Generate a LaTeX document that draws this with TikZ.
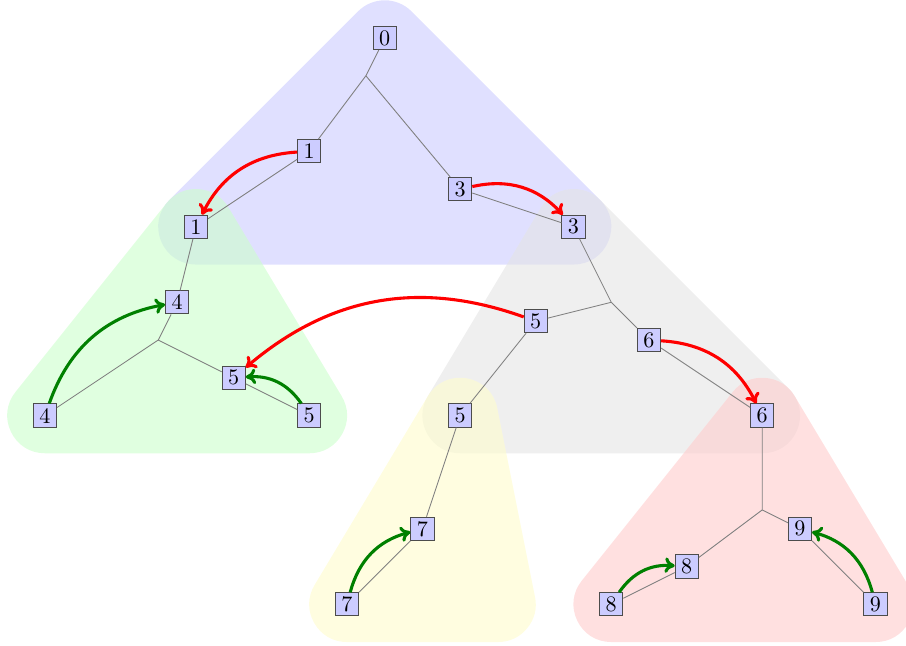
\documentclass[tikz,border=0pt]{standalone}
\usepackage{tikz}
\usetikzlibrary{backgrounds, arrows.meta}
\tikzstyle{cell} = [rectangle, minimum size=10.5pt, inner sep=1pt, text centered, draw=black!70, fill=blue!20]
\tikzstyle{link} = [gray]
\tikzstyle{zone} = [line width=1.2cm, line join=round]
\tikzstyle{redarrow} = [line width=1.4pt, red, -{To[length=4.5pt, width=7pt]}]
\tikzstyle{greenarrow} = [line width=1.4pt, green!50!black, -{To[length=4.5pt, width=7pt]}]

\begin{document}
\begin{tikzpicture}[x=0.6cm, y=-0.6cm]
  \useasboundingbox (-1.192,-1.007) rectangle (22.808,16.08);
  % first tree
  \node (zero) [cell] at (9,0) {0};
  \coordinate (j0) at (8.5,1);
  \node (oneA) [cell] at (7,3) {1};
  \node (threeA) [cell] at (11,4) {3};
  \node (oneB) [cell] at (4,5) {1};
  \node (threeB) [cell] at (14,5) {3};
  % left part
  \node (fourA) [cell] at (3.5,7) {4};
  \coordinate (j1) at (3,8);
  \node (fourB) [cell] at (0,10) {4};
  \node (fiveA) [cell] at (5,9) {5};
  \node (fiveB) [cell] at (7,10) {5};
  % right part
  \coordinate (j2) at (15,7);
  \node (fiveC) [cell] at (13,7.5) {5};
  \node (sixA) [cell] at (16,8) {6};
  \node (fiveD) [cell] at (11,10) {5};
  \node (sixB) [cell] at (19,10) {6};
  \node (sevenA) [cell] at (10,13) {7};
  \node (sevenB) [cell] at (8,15) {7};
  \coordinate (yright) at (12,15);
  \coordinate (j3) at (19,12.5);
  \node (nineA) [cell] at (20,13) {9};
  \node (eightA) [cell] at (17,14) {8};
  \node (eightB) [cell] at (15,15) {8};
  \node (nineB) [cell] at (22,15) {9};

  \draw [link] (zero) -- (j0) -- (oneA);
  \draw [link] (j0) -- (threeA);
  \draw [link] (oneA) -- (oneB);
  \draw [link] (threeA) -- (threeB);
  \draw [link] (oneB) -- (fourA) -- (j1) -- (fourB);
  \draw [link] (j1) -- (fiveA) -- (fiveB);
  \draw [link] (threeB) -- (j2) -- (fiveC) -- (fiveD) -- (sevenA) -- (sevenB);
  \draw [link] (j2) -- (sixA) -- (sixB) -- (j3) -- (eightA) -- (eightB);
  \draw [link] (j3) -- (nineA) -- (nineB);

  \draw [redarrow] (oneA) to[bend right] (oneB);
  \draw [redarrow] (threeA) to[bend left] (threeB);
  \draw [redarrow] (fiveC) to[bend right] (fiveA);
  \draw [redarrow] (sixA) to[bend left] (sixB);
  \draw [greenarrow] (fourB) to[bend left] (fourA);
  \draw [greenarrow] (fiveB) to[bend right] (fiveA);
  \draw [greenarrow] (sevenB) to[bend left] (sevenA);
  \draw [greenarrow] (eightB) to[bend left] (eightA);
  \draw [greenarrow] (nineB) to[bend right] (nineA);

  \begin{scope}[on background layer]
    \begin{scope}[transparency group, opacity=0.6]
      \filldraw [zone, blue!20] (zero.center) -- (oneB.center) -- (threeB.center) -- cycle;
    \end{scope}
    \begin{scope}[transparency group, opacity=0.6]
      \filldraw [zone, gray!20] (threeB.center) -- (fiveD.center) -- (sixB.center) -- cycle;
    \end{scope}
    \begin{scope}[transparency group, opacity=0.6]
      \filldraw [zone, green!20] (oneB.center) -- (fourB.center) -- (fiveB.center) -- cycle;
    \end{scope}
    \begin{scope}[transparency group, opacity=0.6]
      \filldraw [zone, yellow!20] (fiveD.center) -- (sevenB.center) -- (yright) -- cycle;
    \end{scope}
    \begin{scope}[transparency group, opacity=0.6]
      \filldraw [zone, red!20] (sixB.center) -- (eightB.center) -- (nineB.center) -- cycle;
    \end{scope}
  \end{scope}
\end{tikzpicture}
\end{document}
